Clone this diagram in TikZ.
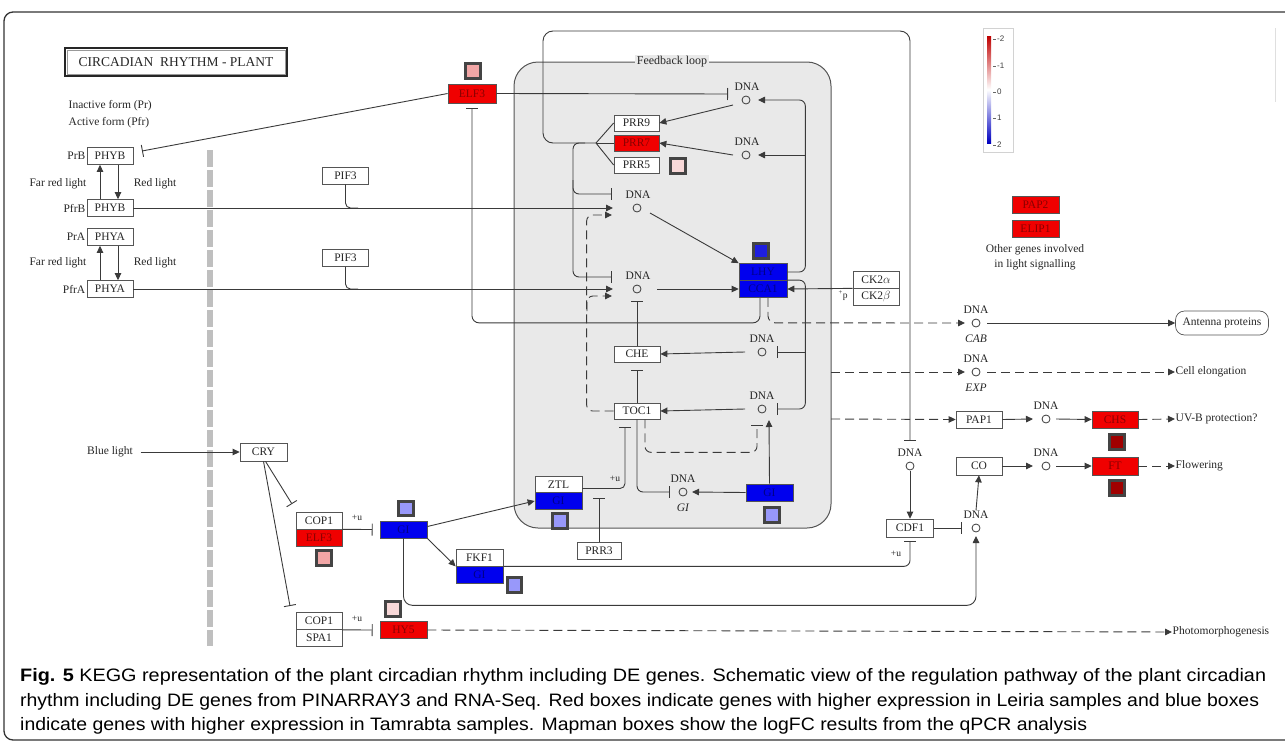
\documentclass[tikz,border=0pt]{standalone}
\usepackage{fontspec}
\usepackage{graphicx}
\setmainfont{Liberation Serif}
\newfontfamily\capfont{Liberation Sans}
\usetikzlibrary{arrows.meta}
\definecolor{ln}{HTML}{3A3A3A}
\definecolor{bx}{HTML}{555555}
\definecolor{kred}{HTML}{F00000}
\definecolor{kredt}{HTML}{8A0000}
\definecolor{kblue}{HTML}{0000EE}
\definecolor{kbluet}{HTML}{000088}
\definecolor{loopfill}{HTML}{E9E9E9}
\definecolor{mmb}{HTML}{444444}
\definecolor{mpink}{HTML}{F2A6A6}
\definecolor{mpale}{HTML}{F8D8D8}
\definecolor{mlav}{HTML}{9898FA}
\definecolor{mblue}{HTML}{1E1EE0}
\definecolor{mdred}{HTML}{A00000}
\definecolor{captxt}{HTML}{231F20}
\newsavebox\capboxA
\newsavebox\capboxB
\newsavebox\capboxC
\begin{document}
\sbox\capboxA{\capfont\fontsize{18}{20}\selectfont\textbf{Fig. 5} KEGG representation of the plant circadian rhythm including DE genes. Schematic view of the regulation pathway of the plant circadian}%
\sbox\capboxB{\capfont\fontsize{18}{20}\selectfont rhythm including DE genes from PINARRAY3 and RNA-Seq. Red boxes indicate genes with higher expression in Leiria samples and blue boxes}%
\sbox\capboxC{\capfont\fontsize{18}{20}\selectfont indicate genes with higher expression in Tamrabta samples. Mapman boxes show the logFC results from the qPCR analysis}%
\pgfmathsetmacro\capsxA{1246/\the\wd\capboxA}%
\pgfmathsetmacro\capsxB{1239/\the\wd\capboxB}%
\pgfmathsetmacro\capsxC{1067/\the\wd\capboxC}%
\begin{tikzpicture}[x=1pt,y=-1pt,
  font=\fontsize{11.5}{12}\selectfont,
  line/.style={draw=ln, line width=0.9pt},
  act/.style={line, -{Triangle[length=7pt,width=6.5pt]}},
  inh/.style={line, -{Bar[width=12pt,line width=0.9pt]}},
  dact/.style={act, dash pattern=on 9pt off 5pt},
  dinh/.style={inh, dash pattern=on 9pt off 5pt},
  gene/.style={draw=bx, line width=0.7pt, fill=white, minimum width=46pt, minimum height=17pt, inner sep=0pt, text=black!85},
  rgene/.style={gene, fill=kred, text=kredt},
  bgene/.style={gene, fill=kblue, text=kbluet},
  mm/.style={draw=mmb, line width=2.6pt, minimum size=14.5pt, inner sep=0pt},
  dna/.style={circle, draw=ln, line width=0.8pt, minimum size=8pt, inner sep=0pt},
  txt/.style={inner sep=0.5pt, text=black!85},
  smalltxt/.style={txt, font=\fontsize{9.5}{10}\selectfont},
  legtxt/.style={inner sep=0pt, text=black!75, font=\capfont\fontsize{8}{8}\selectfont},
]
\useasboundingbox (0,0) rectangle (1285,744);
% outer frame
\draw[black!80, line width=1.3pt, rounded corners=9pt] (4,12) rectangle (1310,740);
\draw[gray!25, line width=1pt] (1275,28) -- (1275,102);

% feedback loop box
\draw[draw=bx, line width=1pt, fill=loopfill, rounded corners=24pt] (514,62) rectangle (831,528);
\node[txt, fill=loopfill, inner sep=2pt, font=\fontsize{12}{12}\selectfont] (fbl) at (672,62) {Feedback loop};

% title
\node[draw=black!85, line width=2pt, minimum width=222pt, minimum height=28pt, inner sep=0pt, font=\fontsize{13.5}{14}\selectfont, text=black!85] (title) at (176,62) {CIRCADIAN\ \ RHYTHM - PLANT};
\draw[gray!80, line width=0.5pt] ([shift={(3pt,3pt)}]title.south west) rectangle ([shift={(-3pt,-3pt)}]title.north east);
\node[txt, anchor=west] (tinact) at (68,106) {Inactive form (Pr)};
\node[txt, anchor=west] (tact) at (68,123) {Active form (Pfr)};

% phytochromes
\node[gene] (phyb1) at (110,156) {PHYB};
\node[gene] (phyb2) at (110,208) {PHYB};
\node[gene] (phya1) at (110,237) {PHYA};
\node[gene] (phya2) at (110,289) {PHYA};
\node[txt, anchor=east] (lprb) at (86,156) {PrB};
\node[txt, anchor=east] (lpfrb) at (86,208) {PfrB};
\node[txt, anchor=east] (lpra) at (86,237) {PrA};
\node[txt, anchor=east] (lpfra) at (86,289) {PfrA};
\node[txt] (frl1) at (58,184) {Far red light};
\node[txt] (rl1) at (155,184) {Red light};
\node[txt] (frl2) at (58,263) {Far red light};
\node[txt] (rl2) at (155,263) {Red light};

% gray membrane bar
\draw[gray!50, line width=6pt, dash pattern=on 17pt off 3pt] (210,150) -- (210,646);

% PIF3
\node[gene] (pif3a) at (345.5,175.5) {PIF3};
\node[gene] (pif3b) at (345.5,258) {PIF3};

% ELF3 top
\node[rgene, minimum width=48pt, minimum height=19pt] (elf3t) at (472,93.5) {ELF3};
\node[mm, fill=mpink] (mmelf3t) at (473,71) {};

% PRRs
\node[gene, minimum width=45pt, minimum height=16pt] (prr9) at (636.5,123) {PRR9};
\node[rgene, minimum width=45pt, minimum height=16pt] (prr7) at (636.5,143) {PRR7};
\node[gene, minimum width=45pt, minimum height=16pt] (prr5) at (636.5,165) {PRR5};
\node[mm, fill=mpale] (mmprr5) at (678,166) {};

% DNA nodes
\node[dna] (dT) at (746,100) {};   \node[txt] (dTl) at (747,87) {DNA};
\node[dna] (dP7) at (746,155) {};  \node[txt] (dP7l) at (747,142) {DNA};
\node[dna] (d1) at (637,208) {};   \node[txt] (d1l) at (638,195) {DNA};
\node[dna] (d2) at (637,289) {};   \node[txt] (d2l) at (638,276) {DNA};
\node[dna] (dChe) at (762,352) {}; \node[txt] (dChel) at (762,339) {DNA};
\node[dna] (dToc) at (762,409) {}; \node[txt] (dTocl) at (762,396) {DNA};
\node[dna] (dGI) at (683,492) {};  \node[txt] (dGIl) at (683,479) {DNA};
\node[txt, font=\fontsize{11.5}{12}\selectfont\itshape] (dGIn) at (683,508) {GI};
\node[dna] (dC) at (910,466) {};   \node[txt] (dCl) at (910,453) {DNA};
\node[dna] (dCDF) at (976,528) {}; \node[txt] (dCDFl) at (976,515) {DNA};
\node[dna] (dCO) at (1046,466) {}; \node[txt] (dCOl) at (1046,453) {DNA};
\node[dna] (dPAP) at (1046,419) {};\node[txt] (dPAPl) at (1046,406) {DNA};
\node[dna] (dCAB) at (976,323) {}; \node[txt] (dCABl) at (976,310) {DNA};
\node[txt, font=\fontsize{11.5}{12}\selectfont\itshape] (dCABn) at (976,339) {CAB};
\node[dna] (dEXP) at (976,372) {}; \node[txt] (dEXPl) at (976,359) {DNA};
\node[txt, font=\fontsize{11.5}{12}\selectfont\itshape] (dEXPn) at (976,388) {EXP};

% LHY / CCA1
\node[bgene, minimum width=48pt] (lhy) at (763,272) {LHY};
\node[bgene, minimum width=48pt] (cca1) at (763,289) {CCA1};
\node[mm, fill=mblue] (mmlhy) at (761,251) {};
\node[gene] (ck2a) at (876,279.5) {CK2$\alpha$};
\node[gene] (ck2b) at (876,296.5) {CK2$\beta$};
\node[smalltxt] (plusp) at (843,296) {\textsuperscript{+}p};

% CHE / TOC1
\node[gene, minimum height=16pt] (che) at (637,354) {CHE};
\node[gene, minimum height=16pt] (toc1) at (637,411) {TOC1};

% GI inside loop
\node[bgene, minimum width=47pt] (giin) at (769.5,492.5) {GI};
\node[mm, fill=mlav] (mmgiin) at (772,515) {};

% ZTL / GI
\node[gene, minimum width=47pt] (ztl) at (558.5,484.5) {ZTL};
\node[bgene, minimum width=47pt] (giz) at (558.5,501) {GI};
\node[mm, fill=mlav] (mmgiz) at (560,521) {};
\node[gene, minimum width=44pt] (prr3) at (599,550.5) {PRR3};
\node[smalltxt] (uztl) at (615,479) {+u};

% blue light branch
\node[txt] (bluel) at (110,452) {Blue light};
\node[gene, minimum width=47pt, minimum height=18pt] (cry) at (263.5,452) {CRY};
\node[gene] (cop1a) at (319,520.5) {COP1};
\node[rgene] (elf3b) at (319,537.5) {ELF3};
\node[mm, fill=mpink] (mmelf3b) at (324,558) {};
\node[smalltxt] (u1) at (357,518) {+u};
\node[bgene, minimum width=47pt] (gil) at (403.5,529.5) {GI};
\node[mm, fill=mlav] (mmgil) at (406,508.5) {};
\node[gene, minimum width=47pt] (fkf1) at (479.5,557.5) {FKF1};
\node[bgene, minimum width=47pt] (gif) at (479.5,574.5) {GI};
\node[mm, fill=mlav] (mmgif) at (514.5,585) {};
\node[gene] (cop1b) at (319,621) {COP1};
\node[gene] (spa1) at (319,637.5) {SPA1};
\node[smalltxt] (u2) at (357,619) {+u};
\node[rgene, minimum width=47pt] (hy5) at (403.5,630) {HY5};
\node[mm, fill=mpale] (mmhy5) at (393,609) {};

% right side
\node[gene, minimum width=47pt, minimum height=18pt] (cdf1) at (910,528) {CDF1};
\node[smalltxt] (u3) at (896,554) {+u};
\node[gene, minimum height=18pt] (co) at (979,466) {CO};
\node[rgene, minimum height=18pt] (ft) at (1115,466) {FT};
\node[mm, fill=mdred] (mmft) at (1117,488) {};
\node[gene] (pap1) at (979,419.5) {PAP1};
\node[rgene] (chs) at (1115,419.5) {CHS};
\node[mm, fill=mdred] (mmchs) at (1117,442) {};
\node[draw=bx, line width=0.7pt, rounded corners=9pt, minimum width=93pt, minimum height=24pt, inner sep=0pt, text=black!85] (ant) at (1222,323) {Antenna proteins};
\node[txt, anchor=west] (cell) at (1175,372) {Cell elongation};
\node[txt, anchor=west] (uvb) at (1175,419) {UV-B protection?};
\node[txt, anchor=west] (flow) at (1175,466) {Flowering};
\node[txt, anchor=west] (photo) at (1172,632) {Photomorphogenesis};

% other genes
\node[rgene, minimum width=47pt] (pap2) at (1035.5,204.5) {PAP2};
\node[rgene, minimum width=47pt] (elip1) at (1035.5,229) {ELIP1};
\node[txt] (oth1) at (1035,250) {Other genes involved};
\node[txt] (oth2) at (1035,265) {in light signalling};

% legend
\node[draw=gray!35, line width=1pt, minimum width=30pt, minimum height=124pt, inner sep=0pt] (leg) at (998,90) {};
\shade[top color=red!75!black, bottom color=blue!75!black, middle color=white] (987,36) rectangle (991,143);
\foreach \yy/\lab [count=\i] in {39/-2,66/-1,92/0,118/1,145/2}{
  \draw[black!60, line width=0.5pt] (993,\yy) -- (995.5,\yy);
  \node[legtxt, anchor=west] (leg\i) at (997,\yy) {\lab};
}

% ---------- connectors ----------
\draw[act] ([xshift=-10pt]phyb2.north) -- ([xshift=-10pt]phyb1.south);
\draw[act] ([xshift=8pt]phyb1.south) -- ([xshift=8pt]phyb2.north);
\draw[act] ([xshift=-10pt]phya2.north) -- ([xshift=-10pt]phya1.south);
\draw[act] ([xshift=8pt]phya1.south) -- ([xshift=8pt]phya2.north);
\coordinate (phybT) at (142,151);
\draw[inh] (elf3t.west) -- (phybT);

\draw[act] (phyb2.east) -- ([xshift=-24pt]d1.center);
\draw[act] (phya2.east) -- ([xshift=-24pt]d2.center);
\coordinate (pifj1) at (358,208);
\coordinate (pifj2) at (358,289);
\draw[line, rounded corners=5pt] (pif3a.south) |- (pifj1);
\draw[line, rounded corners=5pt] (pif3b.south) |- (pifj2);

% LHY/CCA1 -| ELF3
\coordinate (elf3T) at (472,108);
\draw[inh, rounded corners=7pt] ([xshift=-3pt]cca1.south) -- ++(0,25) -| (elf3T);
% ELF3 -| DNA (top)
\draw[inh] (elf3t.east) -- ([xshift=-18pt,yshift=6pt]dT.center);

% PRR outer loop
\coordinate (prrb) at (596,143);
\draw[line] (prr9.west) -- (prrb);
\draw[line] (prr7.west) -- (prrb);
\draw[line] (prr5.west) -- (prrb);
\coordinate (prrT) at (910,441);
\draw[inh, rounded corners=10pt] (prrb) -- (543,143) -- (543,31) -- (910,31) -- (prrT);
\draw[inh, rounded corners=6pt] (585,143) -- (573,143) -- (573,194) -- ([xshift=-25pt,yshift=14pt]d1.center);
\draw[inh, rounded corners=6pt] (573,180) -- (573,277) -- ([xshift=-25pt,yshift=12pt]d2.center);

% DNA -> PRRs
\draw[act] ([xshift=-13pt,yshift=-5pt]dT.center) -- (prr9.east);
\draw[act] ([xshift=-13pt]dP7.center) -- (prr7.east);
% LHY -> DNA (PRR9, PRR7)
\draw[act, rounded corners=6pt] (lhy.east) -- ++(18,0) |- ([xshift=12pt]dT.center);
\draw[act] ([xshift=59pt]dP7.center) -- ([xshift=12pt]dP7.center);
% CCA1 -| DNA (CHE, TOC1)
\draw[inh, rounded corners=6pt] (cca1.north east) -- ++(18,0) |- ([xshift=15pt]dToc.center);
\draw[inh] ([xshift=43pt]dChe.center) -- ([xshift=15pt]dChe.center);
% CK2 -> CCA1
\draw[act] (ck2a.south west) -- (cca1.east);
% DNA -> LHY / CCA1
\draw[act] ([xshift=13pt,yshift=-5pt]d1.center) -- (lhy.north west);
\draw[act] ([xshift=20pt]d2.center) -- (cca1.west);
% DNA -> CHE, TOC1
\draw[act] ([xshift=-17pt]dChe.center) -- (che.east);
\draw[act] ([xshift=-17pt]dToc.center) -- (toc1.east);
\draw[inh] (che.north) -- ([yshift=-12pt]d2.center);
\draw[inh] (toc1.north) -- ([yshift=-16pt]che.center);
% TOC1 dashed activations
\draw[dact, rounded corners=6pt] (toc1.west) -- ++(-27,0) |- ([xshift=-25pt,yshift=-7pt]d1.center);
\draw[dact, rounded corners=6pt] ([xshift=-50pt,yshift=-22pt]d2.center) |- ([xshift=-25pt,yshift=-7pt]d2.center);
\draw[dinh, rounded corners=6pt] ([xshift=8pt]toc1.south) -- ++(0,33) -| ([xshift=-5pt,yshift=-16pt]dToc.center);
% GI (loop)
\draw[act] (giin.north) -- ([xshift=7pt,yshift=-11pt]dToc.center);
\draw[act] (giin.west) -- ([xshift=9pt]dGI.center);
\draw[inh, rounded corners=6pt] (toc1.south) |- ([xshift=-13pt]dGI.center);
\draw[inh, rounded corners=5pt] ([yshift=-4pt]ztl.east) -| ([xshift=-12pt,yshift=-16pt]toc1.center);
\draw[inh] (prr3.north) -- ++(0,-44);

% CCA1 dashed outputs
\draw[dact, rounded corners=7pt] ([xshift=5pt]cca1.south) -- ++(0,25) -- ([xshift=-11pt]dCAB.center);
\draw[act] ([xshift=11pt]dCAB.center) -- (ant.west);
\coordinate (expS) at (831,372);
\draw[dact] (expS) -- ([xshift=-11pt]dEXP.center);
\draw[dact] ([xshift=11pt]dEXP.center) -- (cell.west);
\coordinate (papS) at (831,419);
\draw[dact] (papS) -- (pap1.west);
\draw[act] (pap1.east) -- ([xshift=-13pt]dPAP.center);
\draw[act] ([xshift=10pt]dPAP.center) -- (chs.west);
\draw[dact] (chs.east) -- (uvb.west);

% CDF1 / CO / FT
\draw[act] ([yshift=-5pt]dC.center) -- (cdf1.north);
\draw[inh] (cdf1.east) -- ([xshift=-14pt]dCDF.center);
\draw[act] (dCDFl.north) -- (co.south);
\draw[act] (co.east) -- ([xshift=-13pt]dCO.center);
\draw[act] ([xshift=10pt]dCO.center) -- (ft.west);
\draw[dact] (ft.east) -- (flow.west);

% blue light
\draw[act] ([xshift=7pt]bluel.east) -- (cry.west);
\coordinate (cryT1) at (292,504);
\coordinate (cryT2) at (290,606);
\draw[inh] ([xshift=2pt]cry.south) -- (cryT1);
\draw[inh] (cry.south) -- (cryT2);
\draw[inh] (cop1a.south east) -- ([xshift=-7pt]gil.west);
\draw[act] ([yshift=3pt]gil.east) -- (giz.west);
\draw[act] (gil.south east) -- (fkf1.south west);
\draw[inh, rounded corners=6pt] (fkf1.south east) -| ([yshift=-13pt]cdf1.center);
\draw[act, rounded corners=9pt] (gil.south) -- ++(0,67) -| ([yshift=-8pt]dCDF.center);
\draw[inh] (cop1b.south east) -- ([xshift=-7pt]hy5.west);
\draw[dact] (hy5.east) -- (photo.west);

% caption
\node[anchor=base west, inner sep=0pt, text=captxt] (cap1) at (20,681) {\scalebox{\capsxA}[1]{\usebox\capboxA}};
\node[anchor=base west, inner sep=0pt, text=captxt] (cap2) at (20,706) {\scalebox{\capsxB}[1]{\usebox\capboxB}};
\node[anchor=base west, inner sep=0pt, text=captxt] (cap3) at (20,730) {\scalebox{\capsxC}[1]{\usebox\capboxC}};
\end{tikzpicture}
\end{document}
